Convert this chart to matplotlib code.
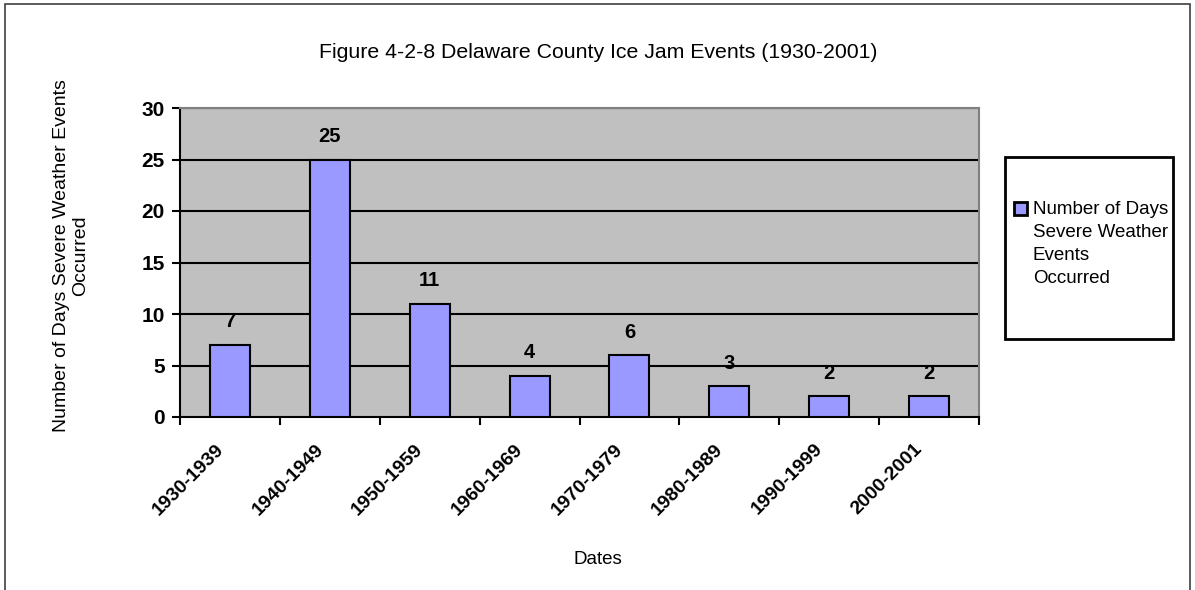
import matplotlib
matplotlib.use('Agg')
import matplotlib.pyplot as plt
from matplotlib.patches import Rectangle
import numpy as np

# Chart data
decades = ['1930-1939', '1940-1949', '1950-1959', '1960-1969',
           '1970-1979', '1980-1989', '1990-1999', '2000-2001']
events = [7, 25, 11, 4, 6, 3, 2, 2]
y_ticks = [0, 5, 10, 15, 20, 25, 30]
series_name = 'Number of Days\nSevere Weather\nEvents\nOccurred'
title = 'Figure 4-2-8 Delaware County Ice Jam Events (1930-2001)'

plt.rcParams['font.family'] = ['Liberation Sans', 'DejaVu Sans']

fig = plt.figure(figsize=(11.95, 5.9), dpi=100)
W, H = 1195, 590
# plot area in pixels: x 180..979, y 108..417
ax = fig.add_axes([180 / W, 1 - 417 / H, 799 / W, 309 / H])
ax.set_facecolor('#C0C0C0')

bar_color = '#9999FF'
pos = np.arange(len(decades))
ax.bar(pos, events, 0.4, color=bar_color, edgecolor='black',
       linewidth=1.5, zorder=3)
for p, v in zip(pos, events):
    ax.text(p, v + 1.7, str(v), ha='center', va='baseline', fontsize=14.5,
            fontweight='bold', zorder=4)

ax.set_xlim(-0.5, len(decades) - 0.5)
ax.set_ylim(0, 30)
ax.set_yticks(y_ticks)
ax.set_yticklabels([str(t) for t in y_ticks], fontsize=15, fontweight='bold')
for t in y_ticks[1:]:
    ax.axhline(t, color='black', linewidth=1.5, zorder=1)

# category ticks sit between the bars; rotated labels hang a little left of centre
ax.set_xticks(np.arange(len(decades) + 1) - 0.5)
ax.set_xticklabels([])
ax.set_xticks(pos - 0.15, minor=True)
ax.set_xticklabels(decades, minor=True, rotation=45, ha='right',
                   rotation_mode='anchor', fontsize=14, fontweight='bold')
ax.tick_params(axis='x', which='minor', length=0, pad=17)
ax.tick_params(axis='x', which='major', length=6, width=1.5, direction='out')
ax.tick_params(axis='y', length=6, width=1.5, direction='out', pad=5)

for s in ['left', 'bottom']:
    ax.spines[s].set_linewidth(1.5)
    ax.spines[s].set_color('black')
for s in ['top', 'right']:
    ax.spines[s].set_linewidth(1.5)
    ax.spines[s].set_color('#808080')

fig.text(598 / W, 1 - 52 / H, title, ha='center', va='center', fontsize=15.3)
fig.text(598 / W, 1 - 560 / H, 'Dates', ha='center', va='center', fontsize=13.5)
fig.text(71 / W, 1 - 256 / H, 'Number of Days Severe Weather Events\nOccurred',
         ha='center', va='center', rotation=90, fontsize=14, linespacing=1.15)

# legend box, drawn by hand so the key sits by the first line
fig.patches.append(Rectangle((1005 / W, 1 - 339 / H), 168 / W, 182 / H,
                             transform=fig.transFigure, fill=False,
                             edgecolor='black', linewidth=2))
fig.patches.append(Rectangle((1014 / W, 1 - 215 / H), 13 / W, 13 / H,
                             transform=fig.transFigure, facecolor=bar_color,
                             edgecolor='black', linewidth=2))
fig.text(1033 / W, 1 - 201 / H, series_name, ha='left', va='top',
         fontsize=13.5, linespacing=1.45)

# outer chart border
fig.patches.append(Rectangle((5 / W, -0.01), 1185 / W, 1.01 - 4 / H,
                             transform=fig.transFigure, fill=False,
                             edgecolor='#404040', linewidth=1.2))

fig.savefig('out.png', dpi=100)
